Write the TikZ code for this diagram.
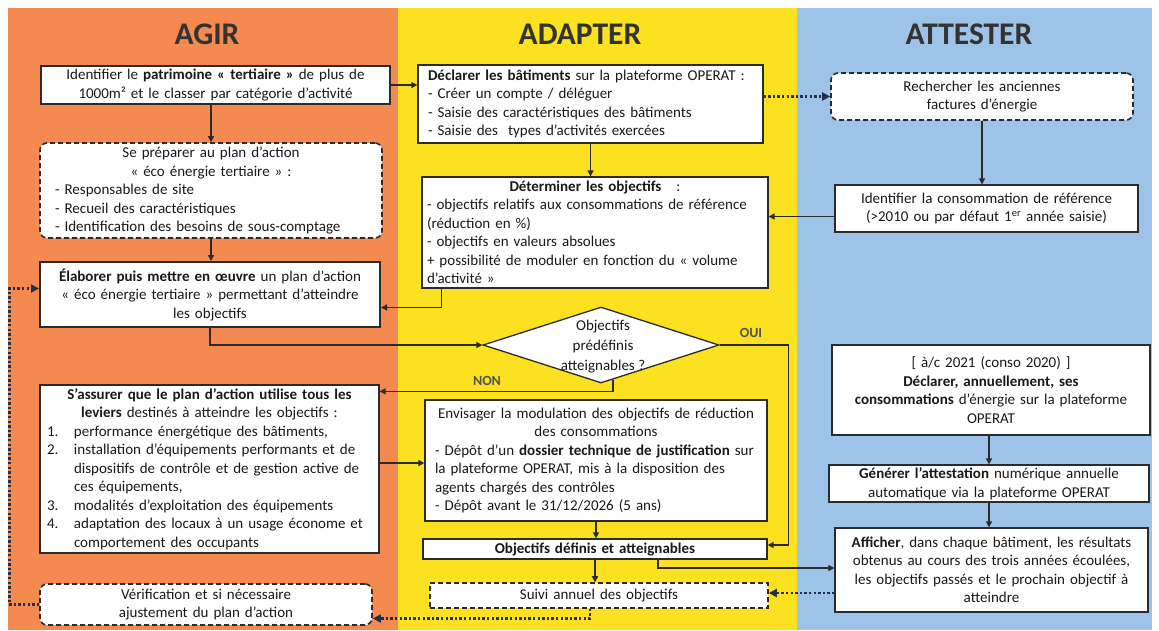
\documentclass[tikz,border=0pt]{standalone}
\usepackage{fontspec}
\setmainfont{Carlito}
\usetikzlibrary{arrows.meta,shapes.geometric,calc}
\definecolor{orangec}{HTML}{F58A50}
\definecolor{yellowc}{HTML}{FBE120}
\definecolor{bluec}{HTML}{9DC3E8}
\definecolor{boxc}{HTML}{2B2B2B}
\definecolor{dotc}{HTML}{22304A}
\definecolor{headc}{HTML}{333333}
\newcommand{\bodyfont}{\fontsize{15}{18.5}\selectfont}
\newcommand{\cl}[1]{\makebox[\linewidth][c]{#1}}
\newcommand{\nb}[1]{\makebox[28pt][l]{\hspace*{1pt}#1}}
\begin{document}
\begin{tikzpicture}[x=1pt,y=-1pt,
  box/.style={draw=boxc, fill=white, line width=1.3pt, inner xsep=6pt, inner ysep=1pt, font=\bodyfont, text=black!90},
  dbox/.style={box, dash pattern=on 5pt off 3pt, line width=1.6pt, rounded corners=7pt},
  conn/.style={draw=boxc, line width=1.5pt, -{Triangle[length=6pt,width=6pt]}},
  dconn/.style={draw=dotc, line width=2.6pt, dash pattern=on 2.4pt off 2.2pt, -{Triangle[length=8pt,width=8pt]}},
  head/.style={font=\fontsize{31.5}{31.5}\selectfont\bfseries, text=headc},
  lab/.style={font=\fontsize{14}{14}\selectfont\bfseries, text=headc!85}
]
% background
\fill[white] (0,0) rectangle (1159,630);
\fill[orangec] (8,8) rectangle (398,630);
\fill[yellowc] (398,8) rectangle (797,630);
\fill[bluec] (797,8) rectangle (1152,630);

% headers
\node[head] (hagir) at (207,34) {AGIR};
\node[head] (hadapt) at (580,34) {ADAPTER};
\node[head] (hatt) at (969,34) {ATTESTER};

% AGIR
\node[box, text width=337pt, minimum height=38pt, align=center] (id1) at (215.5,85)
  {Identifier le \textbf{patrimoine « tertiaire »} de plus de\\1000m² et le classer par catégorie d’activité};
\node[dbox, text width=312pt, inner xsep=15pt, minimum height=95pt, align=left] (prep) at (211,190.5)
  {\cl{Se préparer au plan d’action}\\\cl{« éco énergie tertiaire » :}\\- Responsables de site\\- Recueil des caractéristiques\\- Identification des besoins de sous-comptage};
\node[box, line width=2pt, text width=328pt, minimum height=65pt, align=center] (elab) at (210,294.5)
  {\textbf{Élaborer puis mettre en œuvre} un plan d’action\\« éco énergie tertiaire » permettant d’atteindre\\les objectifs};
\node[box, text width=327pt, minimum height=168pt, align=left] (assur) at (209.5,469)
  {\cl{\textbf{S’assurer que le plan d’action utilise tous les}}\\\cl{\textbf{leviers} destinés à atteindre les objectifs :}\\\nb{1.}performance énergétique des bâtiments,\\\nb{2.}installation d’équipements performants et de\\\hspace*{28pt}dispositifs de contrôle et de gestion active de\\\hspace*{28pt}ces équipements,\\\nb{3.}modalités d’exploitation des équipements\\\nb{4.}adaptation des locaux à un usage économe et\\\hspace*{28pt}comportement des occupants};
\node[dbox, text width=320pt, minimum height=41pt, align=center] (verif) at (206,604.5)
  {Vérification et si nécessaire\\ajustement du plan d’action};

% ADAPTER
\node[box, text width=325pt, inner xsep=10pt, minimum height=78pt, align=left] (decl) at (590.5,104)
  {\textbf{Déclarer les bâtiments} sur la plateforme OPERAT :\\- Créer un compte / déléguer\\- Saisie des caractéristiques des bâtiments\\- Saisie des\ \ types d’activités exercées};
\node[box, text width=336pt, inner xsep=5pt, minimum height=111pt, align=left] (determ) at (595,232.5)
  {\cl{\textbf{Déterminer les objectifs}\ \ \ :}\\- objectifs relatifs aux consommations de référence\\(réduction en \%)\\- objectifs en valeurs absolues\\+ possibilité de moduler en fonction du « volume\\d’activité »};
\node[draw=boxc, line width=1.3pt, fill=white, diamond, minimum width=236pt, minimum height=76pt, inner sep=0pt] (dia) at (601,345) {};
\node[font=\fontsize{15}{20}\selectfont, align=center, inner sep=0pt, text=black!90] (diat) at (603,347)
  {Objectifs\\prédéfinis\\atteignables ?};
\node[box, text width=322pt, inner xsep=10pt, minimum height=121pt, align=left] (envis) at (596,460.5)
  {\cl{Envisager la modulation des objectifs de réduction}\\\cl{des consommations}\\- Dépôt d’un \textbf{dossier technique de justification} sur\\la plateforme OPERAT, mis à la disposition des\\agents chargés des contrôles\\- Dépôt avant le 31/12/2026 (5 ans)};
\node[box, text width=332pt, minimum height=20pt, inner ysep=0pt, align=center] (objdef) at (595,549)
  {\textbf{Objectifs définis et atteignables}};
\node[box, dash pattern=on 5pt off 3pt, line width=1.6pt, text width=326pt, minimum height=25pt, inner ysep=0pt, align=center] (suivi) at (599,595.5)
  {Suivi annuel des objectifs};

% ATTESTER
\node[dbox, text width=290pt, minimum height=47pt, align=center] (rech) at (982,96.5)
  {Rechercher les anciennes\\factures d’énergie};
\node[box, text width=291pt, minimum height=47pt, align=center] (idref) at (986.5,208.5)
  {Identifier la consommation de référence\\(>2010 ou par défaut 1\textsuperscript{er} année saisie)};
\node[box, text width=306pt, minimum height=90pt, align=center] (declan) at (991,390)
  {[ à/c 2021 (conso 2020) ]\\\textbf{Déclarer, annuellement, ses}\\\textbf{consommations} d’énergie sur la plateforme\\OPERAT};
\node[box, text width=308pt, minimum height=37pt, align=center] (gener) at (989,483.5)
  {\textbf{Générer l’attestation} numérique annuelle\\automatique via la plateforme OPERAT};
\node[box, text width=301pt, minimum height=84pt, align=center] (affich) at (991.5,570)
  {\textbf{Afficher}, dans chaque bâtiment, les résultats\\obtenus au cours des trois années écoulées,\\les objectifs passés et le prochain objectif à\\atteindre};

% labels
\node[lab] (non) at (487,381) {NON};
\node[lab] (oui) at (751,333) {OUI};

% connectors
\draw[conn] (id1.east) -- (id1.east -| decl.west);
\draw[conn] (prep.north |- id1.south) -- (prep.north);
\draw[conn] (prep.south) -- (prep.south |- elab.north);
\draw[conn] (elab.south) |- (dia.west);
\draw[conn] ($(determ.south west)+(20,0)$) |- ($(elab.east)+(0,13)$);
\draw[conn] ($(dia.south)!0.1!(dia.east)$) |- ($(assur.north east)+(0,7)$);
\draw[conn] (dia.east) -- ++(69,0) |- ($(objdef.east)+(0,-4)$);
\coordinate (a1) at ($(assur.east)+(0,-6)$);
\draw[conn] (a1) -- (a1 -| envis.west);
\draw[conn] (decl.south) -- (decl.south |- determ.north);
\coordinate (a2) at ($(idref.west)+(0,8)$);
\draw[conn] (a2) -- (a2 -| determ.east);
\draw[dconn] (rech.west -| decl.east) -- (rech.west);
\draw[conn] (rech.south) -- (rech.south |- idref.north);
\draw[conn] (gener.north |- declan.south) -- (gener.north);
\draw[conn] (gener.south) -- (gener.south |- affich.north);
\draw[conn] (envis.south) -- (envis.south |- objdef.north);
\draw[conn] (objdef.south) -- (objdef.south |- suivi.north);
\coordinate (a3) at ($(objdef.south)+(63,0)$);
\draw[conn] (a3) |- ($(affich.west)+(0,-2)$);
\coordinate (a4) at ($(affich.west)+(0,23)$);
\draw[dconn] (a4) -- (a4 -| suivi.east);
\draw[dconn] ($(suivi.south)+(-9,0)$) |- ($(verif.east)+(0,14)$);
\draw[dconn] (verif.west) -- ++(-30,0) |- ($(elab.west)+(0,-6)$);
\end{tikzpicture}
\end{document}
